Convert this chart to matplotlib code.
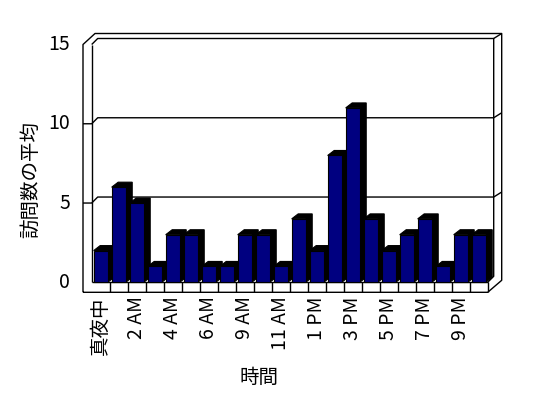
import matplotlib
matplotlib.use('Agg')
import matplotlib.pyplot as plt
from matplotlib.patches import Polygon, Rectangle
from matplotlib.lines import Line2D

plt.rcParams['font.family'] = ['Noto Sans CJK JP', 'DejaVu Sans']

# ---- data ----
hours = ['真夜中', '1 AM', '2 AM', '3 AM', '4 AM', '5 AM', '6 AM', '8 AM',
         '9 AM', '10 AM', '11 AM', '12 PM', '1 PM', '2 PM', '3 PM', '4 PM',
         '5 PM', '6 PM', '7 PM', '8 PM', '9 PM', '10 PM']
visits = [2, 6, 5, 1, 3, 3, 1, 1, 3, 3, 1, 4, 2, 8, 11, 4, 2, 3, 4, 1, 3, 3]
yticks = [0, 5, 10, 15]
ylabel = '訪問数の平均'
xlabel = '時間'

W, H, DPI = 548, 398, 100
fig = plt.figure(figsize=(W / DPI, H / DPI), dpi=DPI)
fig.patch.set_facecolor('white')

# front plane of the 3-D box
x0px, x1px, y0px, y1px = 91.7, 487.7, 282.3, 44.5
ax = fig.add_axes([x0px / W, (H - y0px) / H, (x1px - x0px) / W, (y0px - y1px) / H])
n = len(visits)
XL, XR = -0.5, n - 0.5
YMAX = yticks[-1]
ax.set_xlim(XL, XR)
ax.set_ylim(0, YMAX)
ax.axis('off')

ux = (XR - XL) / (x1px - x0px)      # data units per pixel in x
uy = YMAX / (y0px - y1px)           # data units per pixel in y


def P(x, y, dx=0.0, dy=0.0):
    """data point shifted by dx px right and dy px up"""
    return (x + dx * ux, y + dy * uy)


def line(pts, lw=1.0, z=1):
    xs = [p[0] for p in pts]
    ys = [p[1] for p in pts]
    ax.add_line(Line2D(xs, ys, color='black', lw=lw, zorder=z,
                       clip_on=False, solid_capstyle='butt'))


D = 6  # depth of box in px (right & up)

# outer frame (walls with thickness)
line([P(XL, 0, -8.7, -10), P(XL, YMAX, -8.7, 0), P(XL, YMAX, 3.3, 11),
      P(XR, YMAX, 14, 11), P(XR, 0, 14, 2), P(XR, 0, 0, -10),
      P(XL, 0, -8.7, -10)])
# back wall inner
line([P(XL, YMAX, 0, 0), P(XL, YMAX, D, D), P(XR, YMAX, D, D),
      P(XR, 0, D, D), P(XR, 0, 0, 0)])
line([P(XR, YMAX, D, D), P(XR, YMAX, 14, 11)])
# left wall inner edge
line([P(XL, 0), P(XL, YMAX)])
# floor front edge
line([P(XL, 0), P(XR, 0)])
# gridlines
for v in yticks[1:-1]:
    line([P(XL, v, -8.7, 0), P(XL, v), P(XL, v, D, D), P(XR, v, D, D),
          P(XR, v, 14, 11)])
# floor cells
for k in range(1, n + 1):
    line([P(XL + k, 0), P(XL + k, 0, 0, -10)])

# bars
bw = 0.78
bdx, bdy = 6.5, 5
for i, v in enumerate(visits):
    xl, xr = i - bw / 2, i + bw / 2
    side = Polygon([P(xl, v), P(xl, v, bdx, bdy), P(xr, v, bdx, bdy),
                    P(xr, 0, bdx, bdy), P(xr, 0), P(xr, v)],
                   closed=True, facecolor='black', edgecolor='black',
                   lw=0.8, zorder=10 + 2 * i, clip_on=False)
    ax.add_patch(side)
    front = Rectangle((xl, 0), bw, v, facecolor='#000080',
                      edgecolor='black', lw=0.8, zorder=11 + 2 * i,
                      clip_on=False)
    ax.add_patch(front)

fs = 14
# y tick labels
for v in yticks:
    x, y = P(XL, v, -21.5, 0)
    ax.text(x, y, str(v), ha='right', va='center', fontsize=fs)
# category labels (every other)
for i, lab in enumerate(hours):
    if i % 2 == 0:
        x, y = P(i, 0, 0, -14)
        ax.text(x, y, lab, ha='center', va='top', rotation=90, fontsize=fs,
                zorder=100)

fig.text(259 / W, 1 - 377 / H, xlabel, ha='center', va='center', fontsize=fs)
fig.text(31 / W, 1 - 180 / H, ylabel, ha='center', va='center',
         rotation=90, fontsize=fs)

fig.savefig('out.png', dpi=DPI, facecolor='white')
